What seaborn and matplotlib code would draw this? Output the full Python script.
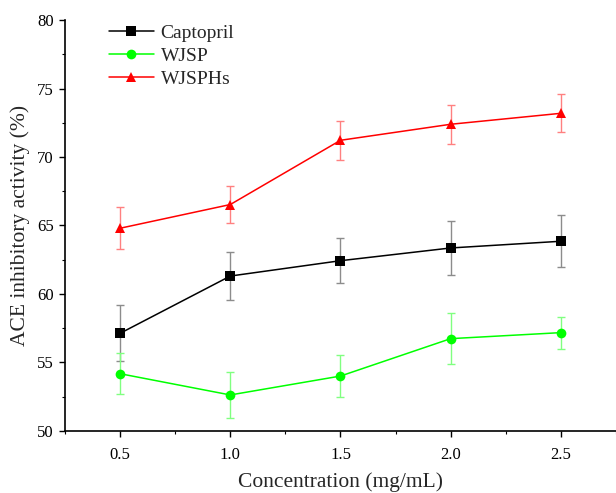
import matplotlib
matplotlib.use("Agg")
import matplotlib.pyplot as plt
from matplotlib.ticker import MultipleLocator, FormatStrFormatter
import seaborn as sns
import pandas as pd

# ACE inhibitory activity (%) at each concentration, mean and SD
concentration = [0.5, 1.0, 1.5, 2.0, 2.5]
captopril = [57.13, 61.31, 62.43, 63.36, 63.85]
captopril_sd = [2.04, 1.75, 1.63, 1.95, 1.91]
wjsp = [54.18, 52.63, 54.01, 56.74, 57.18]
wjsp_sd = [1.49, 1.68, 1.51, 1.86, 1.17]
wjsphs = [64.80, 66.53, 71.22, 72.39, 73.19]
wjsphs_sd = [1.52, 1.37, 1.43, 1.42, 1.39]

series_names = ["Captopril", "WJSP", "WJSPHs"]
series_values = [captopril, wjsp, wjsphs]
series_sd = [captopril_sd, wjsp_sd, wjsphs_sd]

sns.set_theme(style="ticks")
plt.rcParams["font.family"] = ["Liberation Serif", "DejaVu Serif"]

rows = []
for name, vals, sds in zip(series_names, series_values, series_sd):
    for c, v, s in zip(concentration, vals, sds):
        rows.append({"Concentration": c, "Activity": v, "SD": s, "Sample": name})
df = pd.DataFrame(rows)

line_colors = {"Captopril": "#000000", "WJSP": "#00FF00", "WJSPHs": "#FF0000"}
bar_colors = {"Captopril": "#8c8c8c", "WJSP": "#80ff80", "WJSPHs": "#ff8080"}
markers = {"Captopril": "s", "WJSP": "o", "WJSPHs": "^"}

fig = plt.figure(figsize=(6.16, 4.93), dpi=100)
ax = fig.add_axes([0.1055, 0.1258, 0.8945, 0.8336])

# error bars behind the lines
for name in series_names:
    sub = df[df["Sample"] == name]
    ax.errorbar(sub["Concentration"], sub["Activity"], yerr=sub["SD"],
                fmt="none", ecolor=bar_colors[name], elinewidth=1.0,
                capsize=2.6, capthick=1.0, zorder=1)

sns.lineplot(data=df, x="Concentration", y="Activity", hue="Sample",
             style="Sample", palette=line_colors, markers=markers,
             dashes=False, markersize=7, markeredgewidth=0,
             linewidth=1.1, ax=ax, zorder=3, legend=True)

ax.set_xlim(0.25, 2.75)
ax.set_ylim(50, 80)
ax.xaxis.set_major_locator(MultipleLocator(0.5))
ax.xaxis.set_minor_locator(MultipleLocator(0.25))
ax.xaxis.set_major_formatter(FormatStrFormatter("%.1f"))
ax.yaxis.set_major_locator(MultipleLocator(5))
ax.yaxis.set_minor_locator(MultipleLocator(2.5))

ax.set_xlabel("Concentration (mg/mL)", fontsize=15.5, labelpad=7)
ax.set_ylabel("ACE inhibitory activity (%)", fontsize=15.5, labelpad=5)
ax.tick_params(axis="both", which="major", direction="out", length=4.5,
               width=1.0, labelsize=12, color="black", labelcolor="black")
ax.tick_params(axis="both", which="minor", direction="out", length=2.5,
               width=0.8, color="black")
ax.tick_params(axis="x", which="major", pad=7)

for side in ("top", "right"):
    ax.spines[side].set_visible(False)
for side in ("left", "bottom"):
    ax.spines[side].set_color("black")
    ax.spines[side].set_linewidth(1.2)

ax.legend(title=None, frameon=False, loc="upper left",
          bbox_to_anchor=(0.066, 1.008), fontsize=14, handlelength=2.3,
          handletextpad=0.35, labelspacing=0.28, borderaxespad=0.0)

fig.savefig("out.png", dpi=100)
